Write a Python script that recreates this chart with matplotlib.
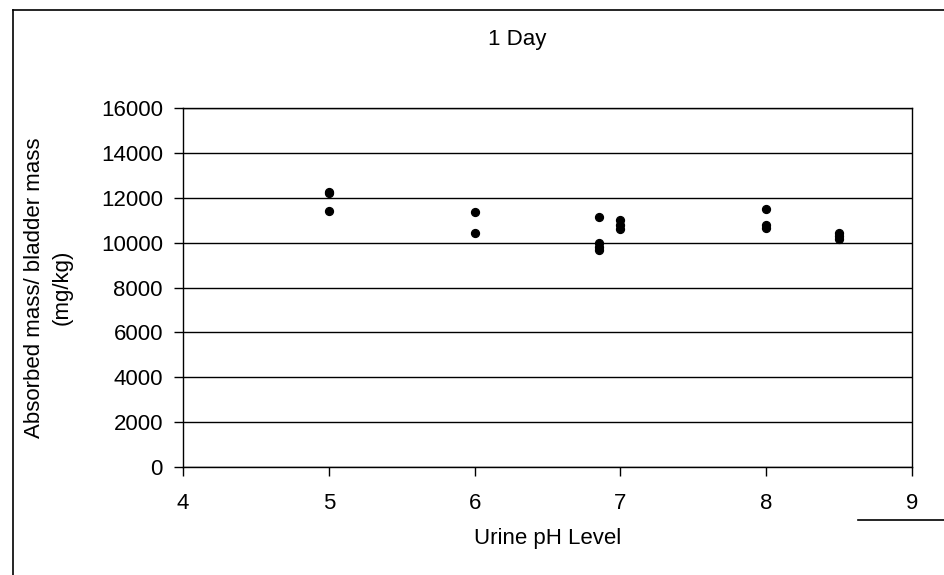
import matplotlib
matplotlib.use("Agg")
import matplotlib.pyplot as plt
from matplotlib.lines import Line2D

ph = [5, 5, 5,
      6, 6,
      6.85, 6.85, 6.85, 6.85,
      7, 7, 7,
      8, 8, 8,
      8.5, 8.5, 8.5]
ratio = [12250, 12200, 11400,
         11350, 10450,
         11150, 9980, 9800, 9650,
         11000, 10800, 10600,
         11500, 10800, 10650,
         10450, 10300, 10150]

x_ticks = [4, 5, 6, 7, 8, 9]
y_ticks = list(range(0, 16001, 2000))

plt.rcParams['font.family'] = ['Liberation Sans', 'DejaVu Sans']

fig = plt.figure(figsize=(9.44, 5.75), dpi=100)
ax = fig.add_axes([0.1939, 0.1878, 0.7722, 0.6244])

ax.scatter(ph, ratio, s=32, c='black', zorder=3)

ax.set_xlim(4, 9)
ax.set_ylim(0, 16000)
ax.set_xticks(x_ticks)
ax.set_yticks(y_ticks)
ax.yaxis.grid(True, color='black', linewidth=1)
ax.set_axisbelow(True)
for sp in ax.spines.values():
    sp.set_color('black')
    sp.set_linewidth(1)
ax.tick_params(axis='both', direction='out', length=6.5, width=1,
               labelsize=16, colors='black')
ax.tick_params(axis='x', pad=12)
ax.tick_params(axis='y', pad=8)

ax.set_xlabel('Urine pH Level', fontsize=16)
ax.xaxis.set_label_coords(0.5, -0.17)

fig.text(0.051, 0.5, 'Absorbed mass/ bladder mass\n(mg/kg)', rotation=90,
         ha='center', va='center', multialignment='center', fontsize=16,
         linespacing=1.4)
fig.text(0.548, 0.932, '1 Day', ha='center', va='center', fontsize=16)

# outer chart frame (partly cut off in the original)
fig.add_artist(Line2D([0.0135, 0.0135], [0.0, 0.983], color='black', lw=1.2,
                      transform=fig.transFigure))
fig.add_artist(Line2D([0.0135, 1.0], [0.983, 0.983], color='black', lw=1.2,
                      transform=fig.transFigure))
fig.add_artist(Line2D([0.909, 1.0], [0.096, 0.096], color='black', lw=1.2,
                      transform=fig.transFigure))

fig.savefig('out.png', dpi=100)
